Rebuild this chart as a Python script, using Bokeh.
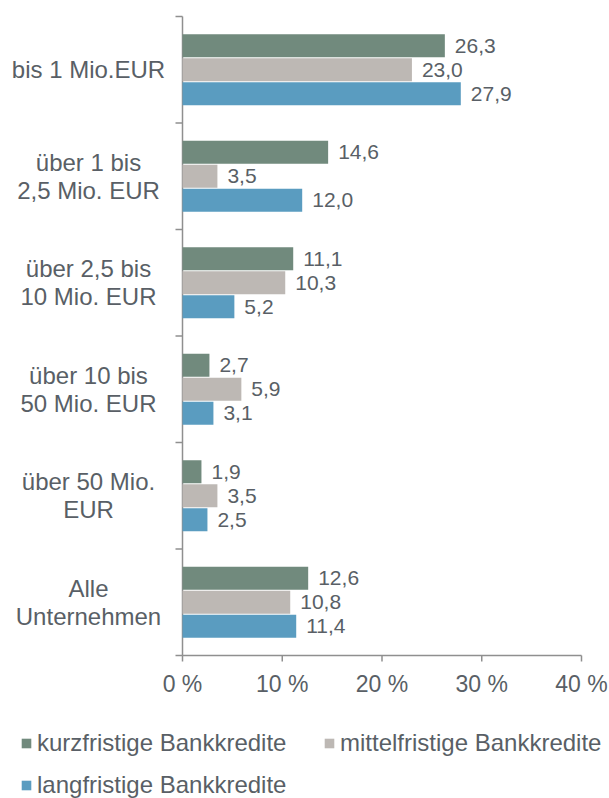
from bokeh.plotting import figure
from bokeh.models import Range1d, Legend, LegendItem, ColumnDataSource
from bokeh.transform import dodge
from bokeh.embed import file_html
from bokeh.resources import INLINE
from bokeh.core.properties import value

categories = ["bis 1 Mio.EUR", "über 1 bis\n2,5 Mio. EUR", "über 2,5 bis\n10 Mio. EUR",
              "über 10 bis\n50 Mio. EUR", "über 50 Mio.\nEUR", "Alle\nUnternehmen"]
series_names = ["kurzfristige Bankkredite", "mittelfristige Bankkredite", "langfristige Bankkredite"]
kurz = [26.3, 14.6, 11.1, 2.7, 1.9, 12.6]
mittel = [23.0, 3.5, 10.3, 5.9, 3.5, 10.8]
lang = [27.9, 12.0, 5.2, 3.1, 2.5, 11.4]
x_ticks = [0, 10, 20, 30, 40]
x_tick_labels = [f"{t} %" for t in x_ticks]

colors = ["#718A7D", "#BDB8B4", "#5A9CC0"]
TEXT = "#595F66"
AXIS = "#8F8F8F"
FONT = "Liberation Sans"

# layout (pixels)
W, H = 609, 798
PLOT_LEFT, PLOT_RIGHT = 182, 581
PLOT_TOP, PLOT_BOTTOM = 16, 655

n = len(categories)
X_MAX = x_ticks[-1]
px_x = (PLOT_RIGHT - PLOT_LEFT) / X_MAX
px_y = (PLOT_BOTTOM - PLOT_TOP) / n
x_range = Range1d(-PLOT_LEFT / px_x, X_MAX + (W - PLOT_RIGHT) / px_x)
y_range = Range1d(n + (H - PLOT_BOTTOM) / px_y, -PLOT_TOP / px_y)

pos = [i + 0.5 for i in range(n)]
bounds = list(range(n + 1))

def fmt(v):
    return f"{v:.1f}".replace(".", ",")

src = ColumnDataSource(dict(
    y=pos, cat=categories, kurz=kurz, mittel=mittel, lang=lang,
    kurz_t=[fmt(v) for v in kurz], mittel_t=[fmt(v) for v in mittel], lang_t=[fmt(v) for v in lang],
))
tick_src = ColumnDataSource(dict(x=x_ticks, y=[n] * len(x_ticks), t=x_tick_labels))

p = figure(width=W, height=H, output_backend="svg", toolbar_location=None,
           x_range=x_range, y_range=y_range,
           x_axis_location=None, y_axis_location=None,
           min_border=0)
p.outline_line_color = None
p.grid.grid_line_color = None
p.background_fill_color = "white"

# category axis
p.segment(x0=0, y0=bounds[0], x1=0, y1=bounds[-1], line_color=AXIS, line_width=1.5)
p.ray(x=0, y=bounds, length=7, length_units="screen", angle=180, angle_units="deg",
      line_color=AXIS, line_width=1.5)
p.text(x=0, y="y", text="cat", source=src, x_offset=-94, text_align="center",
       text_baseline="middle", text_font=value(FONT), text_font_size="24px",
       text_color=TEXT, text_line_height=1.05)

# value axis
p.segment(x0=x_ticks[0], y0=n, x1=x_ticks[-1], y1=n, line_color=AXIS, line_width=1.5)
p.ray(x="x", y="y", source=tick_src, length=6, length_units="screen", angle=-90,
      angle_units="deg", line_color=AXIS, line_width=1.5)
p.text(x="x", y="y", text="t", source=tick_src, y_offset=28, text_align="center",
       text_baseline="middle", text_font=value(FONT), text_font_size="23px",
       text_color=TEXT)

offsets = [-0.225, 0.0, 0.225]
fields = ["kurz", "mittel", "lang"]
renderers = []
for f, off, c in zip(fields, offsets, colors):
    r = p.hbar(y=dodge("y", off, range=p.y_range), right=f, left=0, height=0.215,
               source=src, fill_color=c, line_color=None)
    renderers.append(r)
    p.text(x=f, y=dodge("y", off, range=p.y_range), text=f + "_t", source=src,
           x_offset=10, text_baseline="middle", text_align="left",
           text_font=value(FONT), text_font_size="21px", text_color=TEXT)

legend = Legend(items=[LegendItem(label=nm, renderers=[r]) for nm, r in zip(series_names, renderers)],
                location=(20, -1), orientation="horizontal", ncols=2,
                glyph_width=12, glyph_height=12, label_standoff=5, label_height=28,
                label_width=272, spacing=14, padding=0, margin=0,
                label_text_font=FONT, label_text_font_size="24px", label_text_color=TEXT,
                border_line_color=None, background_fill_alpha=0)
p.add_layout(legend, "center")

open("out.html", "w").write(file_html(p, INLINE))
